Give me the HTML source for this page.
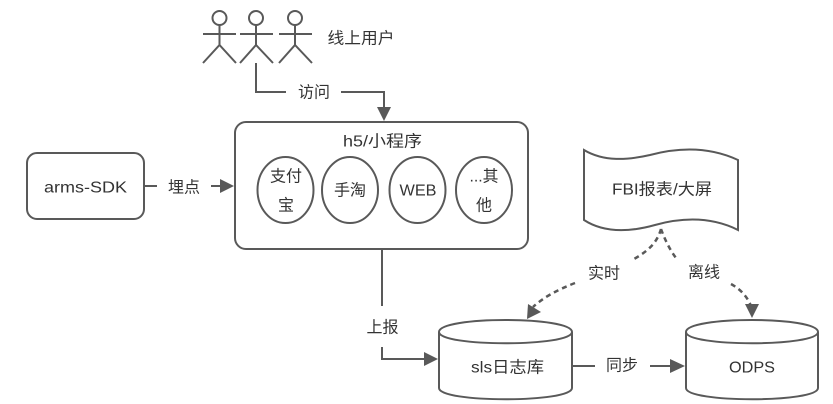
<!DOCTYPE html>
<html>
<head>
<meta charset="utf-8">
<style>
html,body{margin:0;padding:0;background:#fff;}
svg{display:block;}
text{font-family:"Liberation Sans","Noto Sans CJK SC",sans-serif;font-size:16px;fill:#333;text-anchor:middle;dominant-baseline:central;}
.s{fill:#fff;stroke:#595959;stroke-width:2;}
.l{fill:none;stroke:#595959;stroke-width:2;}
.d{fill:none;stroke:#595959;stroke-width:2.5;stroke-dasharray:5 4;}
.a{fill:#595959;stroke:none;}
</style>
</head>
<body>
<svg width="833" height="404" viewBox="0 0 833 404" xmlns="http://www.w3.org/2000/svg">
<rect width="833" height="404" fill="#fff"/>

<g>
<circle class="l" cx="219.5" cy="18" r="7"/>
<path class="l" d="M219.5,25V46M203,34H236M203,63L219.5,45L236,63"/>
<circle class="l" cx="256" cy="18" r="7"/>
<path class="l" d="M256,25V46M240,34H273M240,63L256,45L273,63"/>
<circle class="l" cx="295" cy="18" r="7"/>
<path class="l" d="M295,25V46M279,34H312M279,63L295,45L312,63"/>
</g>
<text x="361" y="39" textLength="67" lengthAdjust="spacingAndGlyphs">线上用户</text>

<path class="l" d="M256,63V92H286"/>
<path class="l" d="M341,92H384V109"/>
<path class="a" d="M377,107H391L384,121Z"/>
<text x="314" y="93">访问</text>

<rect class="s" x="235" y="122" width="293" height="127" rx="11" ry="11"/>
<text x="382.500" y="142" textLength="79" lengthAdjust="spacingAndGlyphs">h5/小程序</text>

<ellipse class="s" cx="285.5" cy="190" rx="28" ry="33"/>
<text x="286" y="177">支付</text>
<text x="286" y="206">宝</text>
<ellipse class="s" cx="350" cy="190" rx="28" ry="33"/>
<text x="350" y="191">手淘</text>
<ellipse class="s" cx="417.5" cy="190" rx="28" ry="33"/>
<text x="418" y="191" textLength="37" lengthAdjust="spacingAndGlyphs">WEB</text>
<ellipse class="s" cx="484" cy="190" rx="28" ry="33"/>
<text x="484" y="177" textLength="29" lengthAdjust="spacingAndGlyphs">...其</text>
<text x="484" y="206">他</text>

<rect class="s" x="27" y="153" width="117" height="66" rx="10" ry="10"/>
<text x="85.500" y="188" textLength="83" lengthAdjust="spacingAndGlyphs">arms-SDK</text>

<path class="l" d="M144,186H157"/>
<path class="l" d="M211,186H222"/>
<path class="a" d="M220,179L234,186L220,193Z"/>
<text x="184" y="188">埋点</text>

<path class="l" d="M382,249V306"/>
<path class="l" d="M382,347V359H425"/>
<path class="a" d="M424,352L438,359L424,366Z"/>
<text x="382.500" y="328">上报</text>

<path class="s" d="M584,150C604,162 628,160 650,155C680,147 710,147 738,160V230C712,217 684,217 655,225C630,232 604,233 584,220Z"/>
<text x="662" y="190" textLength="100" lengthAdjust="spacingAndGlyphs">FBI报表/大屏</text>

<path class="d" d="M661,229C657,243 648,251 634,259"/>
<path class="d" d="M575,283C557,290 544,297 533,307"/>
<path class="a" d="M528,304L541,312L527,319Z"/>
<path class="d" d="M661,229C665,240 670,250 676,258"/>
<path class="d" d="M731,284C740,289 747,296 751,306"/>
<path class="a" d="M745,304H759L752,318Z"/>
<text x="604" y="274">实时</text>
<text x="704" y="273">离线</text>

<path class="s" d="M439,332C439,316 572,316 572,332V388C572,403 439,403 439,388Z"/>
<path class="l" d="M439,332C439,347 572,347 572,332"/>
<text x="507.500" y="368" textLength="73" lengthAdjust="spacingAndGlyphs">sls日志库</text>

<path class="s" d="M686,332C686,316 818,316 818,332V388C818,403 686,403 686,388Z"/>
<path class="l" d="M686,332C686,347 818,347 818,332"/>
<text x="752" y="368" textLength="46" lengthAdjust="spacingAndGlyphs">ODPS</text>

<path class="l" d="M572,366H595"/>
<path class="l" d="M650,366H672"/>
<path class="a" d="M670,359L685,366L670,373Z"/>
<text x="622" y="366">同步</text>
</svg>
</body>
</html>
